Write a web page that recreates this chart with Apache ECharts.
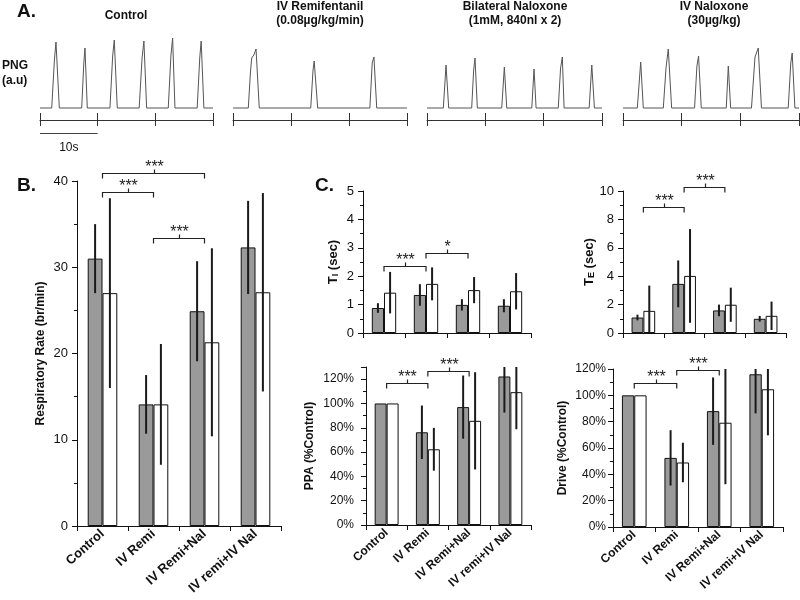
<!DOCTYPE html>
<html><head><meta charset="utf-8">
<script src="https://cdn.jsdelivr.net/npm/echarts/dist/echarts.min.js"></script>
<style>html,body{margin:0;padding:0;background:#fff}#c{width:800px;height:600px}</style>
</head><body><div id="c"></div>
<script>
// ---------- DATA ----------
// Panel A: phrenic nerve traces, [time (s), amplitude (a.u.)] vertices
const traceControl = [[0,0],[2.03,0],[2.5,48],[2.77,66],[3.35,0],[7.23,0],[7.6,45],[7.8,60],[8.2,0],[12.13,0],[12.6,52],[12.88,68],[13.4,0],[17.2,0],[17.7,50],[18.02,67],[18.49,0],[22.24,0],[22.7,52],[23.0,70],[23.4,0],[27.26,0],[27.7,50],[27.95,67],[28.42,0],[30,0]];
const traceRemi = [[0,0],[2.64,0],[3.0,35],[3.22,50],[3.6,53],[3.97,59],[4.53,0],[13.4,0],[13.8,38],[14.0,47],[14.6,0],[23.6,0],[24.0,45],[24.3,51],[24.5,50],[24.78,0],[30,0]];
const traceBilNal = [[0,0],[2.8,0],[3.26,43],[3.72,0],[7.66,0],[8.0,38],[8.23,50],[8.63,0],[12.81,0],[13.26,41],[13.67,0],[17.96,0],[18.35,39],[18.7,0],[22.5,0],[22.9,40],[23.2,51],[23.5,0],[27.8,0],[28.25,43],[28.7,0],[30,0]];
const traceIvNal = [[0,0],[2.44,0],[3.02,46],[3.46,0],[6.87,0],[7.33,40],[7.72,59],[8.29,0],[12.2,0],[12.6,42],[12.88,52],[13.34,0],[17.6,0],[17.95,42],[18.35,0],[21.9,0],[22.5,51],[23.05,60],[23.6,0],[28.16,0],[28.6,45],[28.84,55],[29.3,0],[30,0]];
const traceTitles = [['Control'], ['IV Remifentanil','(0.08µg/kg/min)'], ['Bilateral Naloxone','(1mM, 840nl x 2)'], ['IV Naloxone','(30µg/kg)']];
const scaleBar = [0, 10]; // seconds
const scaleBarLabel = '10s';

// Panels B & C
const categories = ['Control','IV Remi','IV Remi+Nal','IV remi+IV Nal'];
const rrGray = [31.0, 14.1, 24.9, 32.3];
const rrGraySd = [4.0, 3.4, 5.8, 5.4];
const rrWhite = [27.0, 14.1, 21.3, 27.1];
const rrWhiteSd = [11.0, 7.0, 10.9, 11.5];
const rrBrackets = [[0,2,40.9],[0,1,38.7],[1,2,33.4]];
const rrBracketLabels = ['***','***','***'];

const tiGray = [0.88, 1.34, 0.99, 0.96];
const tiGraySd = [0.17, 0.38, 0.20, 0.23];
const tiWhite = [1.42, 1.73, 1.51, 1.47];
const tiWhiteSd = [0.73, 0.58, 0.46, 0.64];
const tiBrackets = [[0,1,2.36],[1,2,2.8]];
const tiBracketLabels = ['***','*'];

const teGray = [1.09, 3.46, 1.59, 1.00];
const teGraySd = [0.20, 1.65, 0.41, 0.20];
const teWhite = [1.56, 4.02, 1.99, 1.21];
const teWhiteSd = [1.78, 3.30, 1.20, 1.00];
const teBrackets = [[0,1,8.84],[1,2,10.3]];
const teBracketLabels = ['***','***'];

const ppaGray = [100, 76.3, 97.0, 122.2];
const ppaGraySd = [0, 22, 26, 29.7];
const ppaWhite = [100, 62.3, 85.7, 109.3];
const ppaWhiteSd = [0, 17.6, 40, 30.5];
const ppaBrackets = [[0,1,116.7],[1,2,126.8]];
const ppaBracketLabels = ['***','***'];

const drvGray = [100, 52.5, 88.0, 116.0];
const drvGraySd = [0, 21, 25.6, 29.7];
const drvWhite = [100, 49.0, 79.2, 104.6];
const drvWhiteSd = [0, 15, 46.7, 35];
const drvBrackets = [[0,1,109.6],[1,2,119.3]];
const drvBracketLabels = ['***','***'];

// ---------- BUILD ----------
const FONT = '"Liberation Sans", Arial, Helvetica, sans-serif';
const INK = '#111';
const BARFRAC = 0.29;
const grids = [], xAxes = [], yAxes = [], series = [], graphics = [];

function txt(text, x, y, size, bold, align) {
  graphics.push({type:'text', x:x, y:y, silent:true, style:{text:text, font:(bold?'bold ':'')+size+'px '+FONT, fill:INK,
    align:align||'center', textAlign:align||'center', verticalAlign:'middle', textVerticalAlign:'middle'}});
}

// Panel A
const traces = [traceControl, traceRemi, traceBilNal, traceIvNal];
const traceLeft = [40, 233, 427, 623];
const traceWidth = [173, 174, 175, 176];
const titleX = [126, 320, 515, 714];
traces.forEach((tr, i) => {
  grids.push({left: traceLeft[i], width: traceWidth[i], top: 38, height: 82});
  const gi = grids.length - 1;
  xAxes.push({gridIndex: gi, type:'value', min:0, max:30, interval:10, position:'bottom',
    axisLine:{show:true, onZero:false, lineStyle:{color:'#333', width:1}},
    axisTick:{show:true, inside:true, length:7, lineStyle:{color:'#333'}},
    axisLabel:{show:false}, splitLine:{show:false}});
  xAxes.push({gridIndex: gi, type:'value', min:0, max:30, interval:10, position:'bottom',
    axisLine:{show:false, onZero:false},
    axisTick:{show:true, inside:false, length:6, lineStyle:{color:'#333'}},
    axisLabel:{show:false}, splitLine:{show:false}});
  yAxes.push({gridIndex: gi, type:'value', min:-12, max:70, show:false});
  series.push({type:'line', xAxisIndex: xAxes.length-2, yAxisIndex: yAxes.length-1, data: tr,
    symbol:'none', lineStyle:{color:'#555', width:1}});
  const t = traceTitles[i];
  if (t.length === 1) txt(t[0], titleX[i], 16, 12, true);
  else { txt(t[0], titleX[i], 7, 12, true); txt(t[1], titleX[i], 21, 12, true); }
  if (i === 0) {
    series.push({type:'custom', xAxisIndex: 0, yAxisIndex: 0, clip:false, silent:true,
      data:[[scaleBar[0], scaleBar[1]]], encode:{x:[0,1]},
      renderItem:(p, api) => {
        const a = api.coord([api.value(0), -25]);
        const b = api.coord([api.value(1), -25]);
        const c = api.coord([(api.value(0)+api.value(1))/2, -40]);
        return {type:'group', children:[
          {type:'line', shape:{x1:a[0], y1:Math.round(a[1])+0.5, x2:b[0], y2:Math.round(a[1])+0.5}, style:{stroke:'#444', lineWidth:1}},
          {type:'text', x:c[0], y:c[1], style:{text: scaleBarLabel, font:'12px '+FONT, fill:INK, align:'center', textAlign:'center', verticalAlign:'middle', textVerticalAlign:'middle'}}
        ]};
      }});
  }
});
txt('A.', 17, 12, 19, true, 'left');
txt('PNG', 2, 66, 12, true, 'left');
txt('(a.u)', 2, 81, 12, true, 'left');
txt('B.', 17, 186, 19, true, 'left');
txt('C.', 315, 186, 19, true, 'left');

function errSeries(xi, yi, means, sds, side) {
  return {type:'custom', xAxisIndex: xi, yAxisIndex: yi, clip: true, silent: true, z: 4,
    data: means.map((m, i) => [i, m, sds[i]]), encode:{x:0, y:1},
    renderItem: (params, api) => {
      const i = api.value(0), m = api.value(1), s = api.value(2);
      if (!s) return {type:'group', children:[]};
      const top = api.coord([i, m + s]), bot = api.coord([i, m - s]);
      const bw = api.size([1, 0])[0] * BARFRAC;
      const x = top[0] + side * bw / 2;
      return {type:'line', shape:{x1:x, y1:top[1], x2:x, y2:bot[1]}, style:{stroke:'#1a1a1a', lineWidth:2}};
    }};
}
function bracketSeries(xi, yi, arr, labels) {
  return {type:'custom', xAxisIndex: xi, yAxisIndex: yi, clip: false, silent: true, z: 5,
    data: arr.map(b => [b[0], b[1], b[2]]), encode:{x:[0,1], y:2},
    renderItem: (params, api) => {
      const a = api.coord([api.value(0), api.value(2)]);
      const b = api.coord([api.value(1), api.value(2)]);
      const y = Math.round(a[1]) + 0.5;
      const mid = Math.round((a[0] + b[0]) / 2) + 0.5;
      return {type:'group', children:[
        {type:'polyline', shape:{points:[[a[0], y+5],[a[0], y],[b[0], y],[b[0], y+5]]}, style:{stroke:'#222', lineWidth:1.2, fill:null}},
        {type:'line', shape:{x1:mid, y1:y, x2:mid, y2:y-4}, style:{stroke:'#222', lineWidth:1.2}},
        {type:'text', x: mid, y: y - 6, style:{text: labels[params.dataIndex], font:'16px '+FONT, fill:'#222',
          align:'center', textAlign:'center', verticalAlign:'middle', textVerticalAlign:'middle'}}
      ]};
    }};
}

function panel(cfg) {
  grids.push({left: cfg.left, width: cfg.width, top: cfg.top, height: cfg.height});
  const gi = grids.length - 1;
  xAxes.push({gridIndex: gi, type:'category', data: categories, boundaryGap: true,
    axisLine:{show:true, onZero:false, lineStyle:{color:INK, width:1}},
    axisTick:{show:true, length:5, lineStyle:{color:INK}},
    axisLabel:{show: cfg.showX, interval:0, rotate: 42, fontWeight:'bold', fontSize: cfg.xFont || 12, color: INK, margin: 6, fontFamily: FONT},
    splitLine:{show:false}});
  const xi = xAxes.length - 1;
  yAxes.push({gridIndex: gi, type:'value', min: cfg.min, max: cfg.max, interval: cfg.interval,
    axisLine:{show:true, lineStyle:{color:INK, width:1}},
    axisTick:{show:true, length:5, lineStyle:{color:INK}},
    minorTick:{show:true, splitNumber:2, length:3, lineStyle:{color:INK}},
    splitLine:{show:false}, minorSplitLine:{show:false},
    axisLabel:{fontSize: cfg.yFont || 12, color: INK, margin: cfg.labelMargin, fontFamily: FONT,
      formatter: cfg.fmt || '{value}', showMaxLabel: cfg.showMax !== false},
    name: cfg.name, nameLocation:'middle', nameGap: cfg.nameGap,
    nameTextStyle:{fontWeight:'bold', fontSize: 12, color: INK, fontFamily: FONT,
      rich:{t:{fontSize:13, fontWeight:'bold', color:INK, fontFamily:FONT}, s:{fontSize:9, fontWeight:'bold', color:INK, fontFamily:FONT, verticalAlign:'bottom'}}}});
  const yi = yAxes.length - 1;
  series.push({type:'bar', xAxisIndex: xi, yAxisIndex: yi, data: cfg.gray, barWidth:(BARFRAC*100)+'%', barGap:'0%', z:2,
    itemStyle:{color:'#9a9a9a', borderColor:INK, borderWidth:1}});
  series.push({type:'bar', xAxisIndex: xi, yAxisIndex: yi, data: cfg.white, barWidth:(BARFRAC*100)+'%', barGap:'0%', z:2,
    itemStyle:{color:'#ffffff', borderColor:INK, borderWidth:1}});
  series.push(errSeries(xi, yi, cfg.gray, cfg.graySd, -1));
  series.push(errSeries(xi, yi, cfg.white, cfg.whiteSd, 1));
  series.push(bracketSeries(xi, yi, cfg.brackets, cfg.labels));
}

panel({left:77, width:204, top:181, height:345, min:0, max:40, interval:10, showX:true, xFont:13, yFont:13, labelMargin:9,
  name:'Respiratory Rate (br/min)', nameGap:30, gray:rrGray, graySd:rrGraySd, white:rrWhite, whiteSd:rrWhiteSd, brackets:rrBrackets, labels:rrBracketLabels});
panel({left:363, width:168, top:191, height:142, min:0, max:5, interval:1, showX:false, yFont:13, labelMargin:9,
  name:'{t|T}{s|I}{t| (sec)}', nameGap:23, gray:tiGray, graySd:tiGraySd, white:tiWhite, whiteSd:tiWhiteSd, brackets:tiBrackets, labels:tiBracketLabels});
panel({left:623, width:163, top:191, height:142, min:0, max:10, interval:2, showX:false, yFont:13, labelMargin:9,
  name:'{t|T}{s|E}{t| (sec)}', nameGap:25, gray:teGray, graySd:teGraySd, white:teWhite, whiteSd:teWhiteSd, brackets:teBrackets, labels:teBracketLabels});
panel({left:366, width:165, top:367, height:158, min:0, max:130, interval:20, showX:true, labelMargin:12, fmt:'{value}%', showMax:false,
  name:'PPA (%Control)', nameGap:50, gray:ppaGray, graySd:ppaGraySd, white:ppaWhite, whiteSd:ppaWhiteSd, brackets:ppaBrackets, labels:ppaBracketLabels});
panel({left:613, width:170, top:369, height:158, min:0, max:120, interval:20, showX:true, labelMargin:7, fmt:'{value}%',
  name:'Drive (%Control)', nameGap:44, gray:drvGray, graySd:drvGraySd, white:drvWhite, whiteSd:drvWhiteSd, brackets:drvBrackets, labels:drvBracketLabels});

const chart = echarts.init(document.getElementById('c'), null, {renderer:'canvas'});
chart.setOption({
  animation: false,
  backgroundColor: '#fff',
  textStyle: {fontFamily: FONT},
  grid: grids, xAxis: xAxes, yAxis: yAxes, series: series, graphic: graphics
});
</script></body></html>
